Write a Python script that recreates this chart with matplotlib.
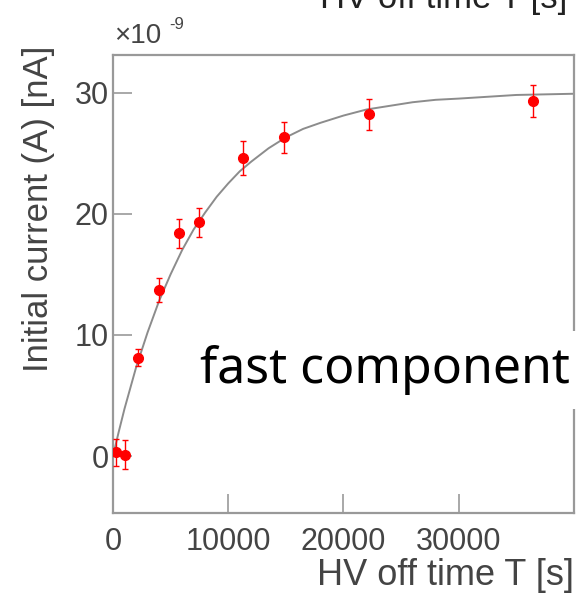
import matplotlib
matplotlib.use("Agg")
import matplotlib.pyplot as plt

# measured points (HV off time in s, initial current in nA)
off_time = [300, 1000, 2200, 4000, 5700, 7500, 11300, 14800, 22200, 36400]
current = [0.3, 0.1, 8.1, 13.7, 18.4, 19.3, 24.6, 26.3, 28.2, 29.3]
current_err = [1.1, 1.2, 0.7, 1.0, 1.2, 1.2, 1.4, 1.3, 1.3, 1.3]

# fit curve
fit_time = [0, 500, 1000, 1500, 2000, 3000, 4000, 5000, 6000, 7000, 8000,
            9000, 10000, 11000, 12000, 13500, 15000, 16500, 18000, 20000,
            22000, 24000, 26000, 28000, 30000, 35000, 40000]
fit_current = [0.0, 2.0, 3.9, 5.6, 7.3, 10.2, 12.8, 15.0, 17.0, 18.7, 20.1,
               21.4, 22.5, 23.5, 24.3, 25.4, 26.3, 27.0, 27.5, 28.1,
               28.6, 28.9, 29.2, 29.4, 29.5, 29.8, 29.9]

x_ticks = [0, 10000, 20000, 30000]
y_ticks = [0, 10, 20, 30]

plt.rcParams["font.family"] = ["Liberation Sans", "DejaVu Sans"]
text_color = "#444444"
axis_color = "#999999"

fig = plt.figure(figsize=(5.77, 5.93), dpi=100)
ax = fig.add_axes([0.1958, 0.1349, 0.799, 0.7724])

ax.plot(fit_time, fit_current, color="#8c8c8c", lw=1.4, zorder=2)
ax.errorbar(off_time, current, yerr=current_err, fmt="o", color="red",
            ms=7, elinewidth=1.0, capsize=2, capthick=1.0, zorder=3)

ax.set_xlim(0, 40000)
ax.set_ylim(-4.7, 33.1)
ax.set_xticks(x_ticks)
ax.set_yticks(y_ticks)
ax.tick_params(direction="in", length=14, width=1.2, color=axis_color,
               labelsize=22, labelcolor=text_color, top=False, right=False)
ax.tick_params(axis="x", pad=10)
ax.tick_params(axis="y", pad=3)
for spine in ax.spines.values():
    spine.set_color(axis_color)
    spine.set_linewidth(1.6)

ax.set_xlabel("HV off time T [s]", fontsize=26, color=text_color,
              loc="right", labelpad=1)
ax.set_ylabel("Initial current (A) [nA]", fontsize=25, color=text_color,
              loc="top")
ax.yaxis.set_label_coords(-0.125, 1.02)

ax.text(0.003, 1.012, "×10", transform=ax.transAxes, fontsize=20,
        color=text_color, ha="left", va="bottom")
ax.text(0.122, 1.05, "-9", transform=ax.transAxes, fontsize=12,
        color=text_color, ha="left", va="bottom")

# xlabel of the panel above, cut by the top edge
fig.text(0.983, 1 - 8 / 593, "HV off time T [s]", fontsize=25,
         color="#222222", ha="right", va="baseline")

fig.text(0.988, 1 - 383 / 593, "fast component", fontsize=36,
         family=["Noto Sans", "DejaVu Sans"], color="black",
         ha="right", va="baseline",
         bbox=dict(facecolor="white", edgecolor="none", pad=10))

fig.savefig("out.png", dpi=100)
